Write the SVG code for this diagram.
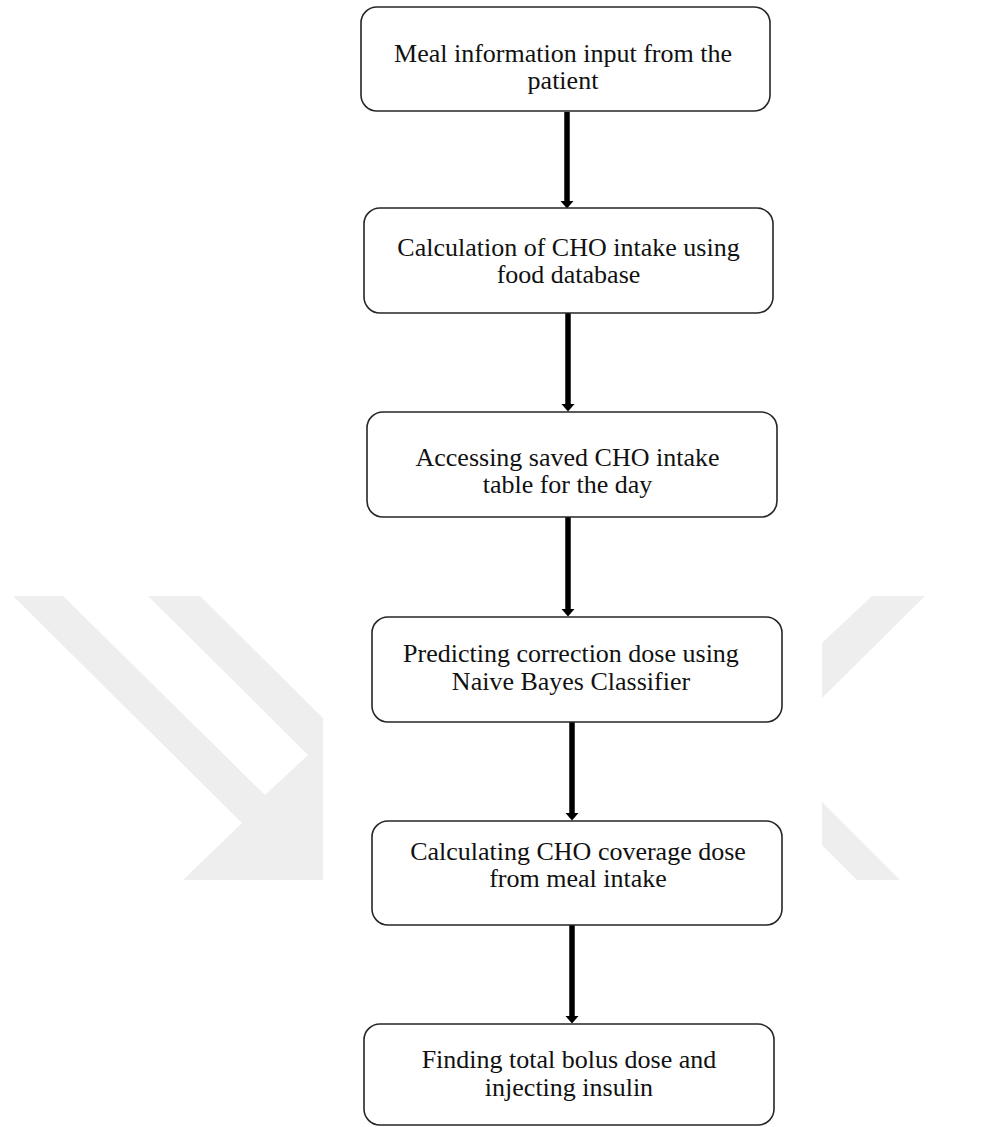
<svg xmlns="http://www.w3.org/2000/svg" width="982" height="1127" viewBox="0 0 982 1127">
<style>
.box{fill:#fff;stroke:#262626;stroke-width:1.6}
.lbl{font-family:"Liberation Serif","Times New Roman",serif;font-size:26px;fill:#111;text-anchor:middle}
.wm{fill:#eeeeee;stroke:none}
.conn{stroke:#000;stroke-width:5.5;fill:none}
</style>
<defs>
<marker id="ah" markerUnits="userSpaceOnUse" viewBox="0 -7 8 14" refX="0" refY="0" markerWidth="8" markerHeight="14" orient="auto">
<path d="M0,-6.5 L7.5,0 L0,6.5 Z" fill="#000"/>
</marker>
</defs>
<rect x="0" y="0" width="982" height="1127" fill="#fff"/>
<g id="watermark">
<polygon class="wm" points="13,596 63,596 265,795 308,755 148,596 200,596 323,718 323,880 183,880 242,823"/>
<polygon class="wm" points="872,596 925,596 822,698 822,643"/>
<polygon class="wm" points="822,802 900,880 857,880 822,845"/>
</g>
<g id="connectors">
<line class="conn" x1="567" y1="112" x2="567" y2="201" marker-end="url(#ah)"/>
<line class="conn" x1="568" y1="313" x2="568" y2="404" marker-end="url(#ah)"/>
<line class="conn" x1="568" y1="517" x2="568" y2="609" marker-end="url(#ah)"/>
<line class="conn" x1="572" y1="722" x2="572" y2="813" marker-end="url(#ah)"/>
<line class="conn" x1="572" y1="925" x2="572" y2="1016" marker-end="url(#ah)"/>
</g>
<g id="n1">
<rect class="box" x="361" y="7" width="409" height="104" rx="16"/>
<text class="lbl" x="563" y="62">Meal information input from the</text>
<text class="lbl" x="563" y="89">patient</text>
</g>
<g id="n2">
<rect class="box" x="364" y="208" width="409" height="105" rx="16"/>
<text class="lbl" x="568.5" y="256">Calculation of CHO intake using</text>
<text class="lbl" x="568.5" y="283">food database</text>
</g>
<g id="n3">
<rect class="box" x="367" y="412" width="410" height="105" rx="16"/>
<text class="lbl" x="567.5" y="466">Accessing saved CHO intake</text>
<text class="lbl" x="567.5" y="493">table for the day</text>
</g>
<g id="n4">
<rect class="box" x="372" y="617" width="410" height="105" rx="16"/>
<text class="lbl" x="571" y="662">Predicting correction dose using</text>
<text class="lbl" x="571" y="690">Naive Bayes Classifier</text>
</g>
<g id="n5">
<rect class="box" x="372" y="821" width="410" height="104" rx="16"/>
<text class="lbl" x="578" y="860">Calculating CHO coverage dose</text>
<text class="lbl" x="578" y="887">from meal intake</text>
</g>
<g id="n6">
<rect class="box" x="364" y="1024" width="410" height="101" rx="16"/>
<text class="lbl" x="569" y="1068">Finding total bolus dose and</text>
<text class="lbl" x="569" y="1096">injecting insulin</text>
</g>
</svg>
